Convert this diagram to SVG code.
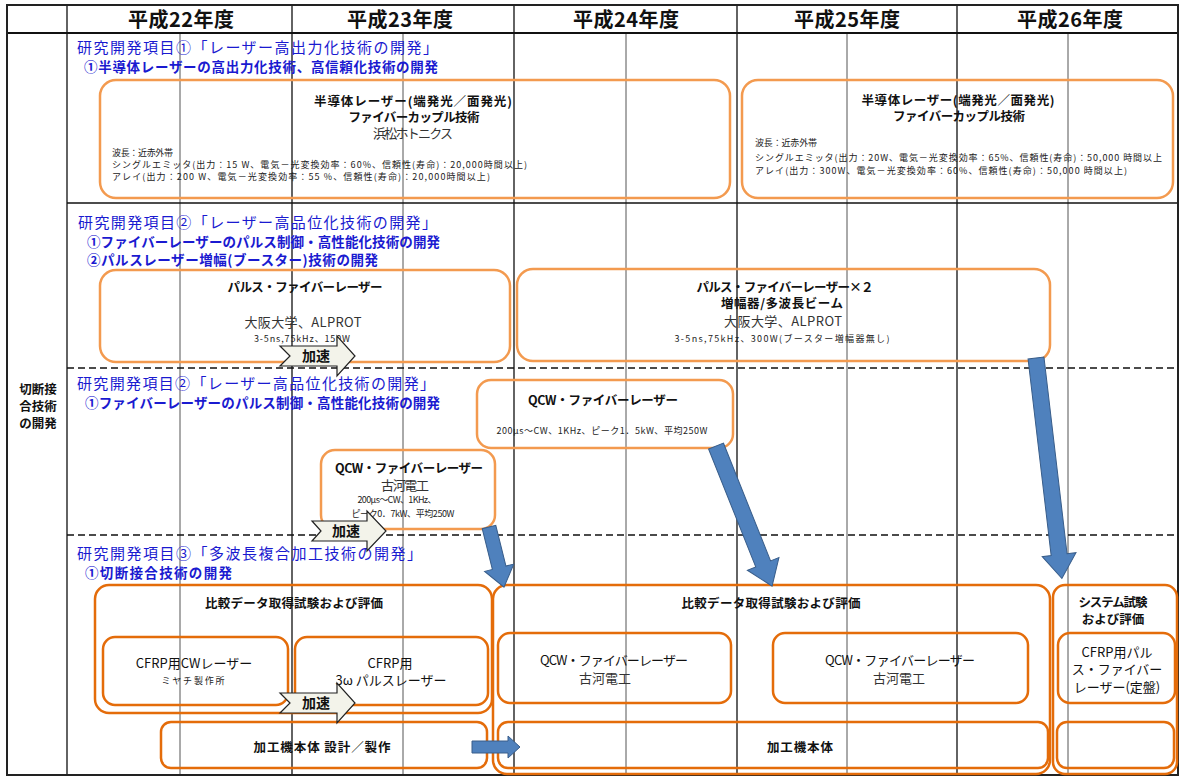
<svg xmlns="http://www.w3.org/2000/svg" width="1182" height="778" viewBox="0 0 1182 778">
<defs>
<style>
text{font-family:"Noto Sans CJK JP","Noto Sans",sans-serif;fill:#111}
.hd{font-size:20px;font-weight:bold;text-anchor:middle}
.t1{font-size:15px;fill:#1a1ad0}
.t2{font-size:13.5px;fill:#1a1ad0;font-weight:bold}
.b13{font-size:12.5px;font-weight:bold;text-anchor:middle}
.r13{font-size:13px;text-anchor:middle;fill:#333}
.s9{font-size:9px;fill:#222}
.s9m{font-size:9px;fill:#222;text-anchor:middle}
.ob{fill:none;stroke:#f39a4f;stroke-width:2.5}
.od{fill:none;stroke:#e46c0a;stroke-width:2.5}
.yl{stroke:#222;stroke-width:1.4}
.hl{stroke:#555;stroke-width:1}
.ds{stroke:#111;stroke-width:1.6;stroke-dasharray:7 4}
.acc{fill:#f3f3ea;stroke:#222;stroke-width:1.2}
.acct{font-size:14px;font-weight:bold;text-anchor:middle}
.ba{fill:#4f81bd;stroke:#385d8a;stroke-width:1}
</style>
</defs>
<rect width="1182" height="778" fill="#fff"/>
<g id="grid">
<line x1="180" y1="33" x2="180" y2="775" class="hl"/>
<line x1="403" y1="33" x2="403" y2="775" class="hl"/>
<line x1="626" y1="33" x2="626" y2="775" class="hl"/>
<line x1="847" y1="33" x2="847" y2="775" class="hl"/>
<line x1="1068" y1="33" x2="1068" y2="775" class="hl"/>
<line x1="67" y1="5" x2="67" y2="775" class="yl"/>
<line x1="292" y1="5" x2="292" y2="775" class="yl"/>
<line x1="514" y1="5" x2="514" y2="775" class="yl"/>
<line x1="737" y1="5" x2="737" y2="775" class="yl"/>
<line x1="957" y1="5" x2="957" y2="775" class="yl"/>
<line x1="7" y1="33" x2="1178" y2="33" stroke="#111" stroke-width="2"/>
<line x1="67" y1="203" x2="1178" y2="203" stroke="#111" stroke-width="1.6"/>
<line x1="67" y1="368" x2="1178" y2="368" class="ds"/>
<line x1="67" y1="535" x2="1178" y2="535" class="ds"/>
<rect x="7" y="5" width="1171" height="770" fill="none" stroke="#222" stroke-width="2"/>
</g>
<g id="header">
<text x="181" y="27" class="hd" textLength="106">平成22年度</text>
<text x="400" y="27" class="hd" textLength="106">平成23年度</text>
<text x="626" y="27" class="hd" textLength="106">平成24年度</text>
<text x="847" y="27" class="hd" textLength="106">平成25年度</text>
<text x="1070" y="27" class="hd" textLength="106">平成26年度</text>
</g>
<g id="row-label">
<text x="38" y="394" font-size="12.5" font-weight="bold" text-anchor="middle">切断接</text>
<text x="38" y="411" font-size="12.5" font-weight="bold" text-anchor="middle">合技術</text>
<text x="38" y="428" font-size="12.5" font-weight="bold" text-anchor="middle">の開発</text>
</g>
<g id="section1-titles">
<text x="77" y="53" class="t1" textLength="361">研究開発項目①「レーザー高出力化技術の開発」</text>
<text x="84" y="72" class="t2" textLength="354">①半導体レーザーの高出力化技術、高信頼化技術の開発</text>
</g>
<g id="box-semi-1">
<rect x="100" y="80" width="630" height="118" rx="16" class="ob"/>
<text x="413" y="106" class="b13" textLength="198">半導体レーザー(端発光／面発光)</text>
<text x="414" y="122" class="b13" textLength="131">ファイバーカップル技術</text>
<text x="413" y="138" class="r13" font-size="12" textLength="80">浜松ホトニクス</text>
<text x="112" y="155.5" class="s9" textLength="61">波長：近赤外帯</text>
<text x="112" y="167.5" class="s9" textLength="415">シングルエミッタ(出力：15 W、電気－光変換効率：60%、信頼性(寿命)：20,000時間以上)</text>
<text x="112" y="179.5" class="s9" textLength="378">アレイ(出力：200 W、電気－光変換効率：55 %、信頼性(寿命)：20,000時間以上)</text>
</g>
<g id="box-semi-2">
<rect x="742" y="80" width="431" height="118" rx="16" class="ob"/>
<text x="958" y="105" class="b13" textLength="193">半導体レーザー(端発光／面発光)</text>
<text x="959" y="121" class="b13" textLength="132">ファイバーカップル技術</text>
<text x="755" y="146" class="s9" textLength="62">波長：近赤外帯</text>
<text x="755" y="161" class="s9" textLength="407">シングルエミッタ(出力：20W、電気－光変換効率：65%、信頼性(寿命)：50,000 時間以上</text>
<text x="755" y="174" class="s9" textLength="372">アレイ(出力：300W、電気－光変換効率：60%、信頼性(寿命)：50,000 時間以上)</text>
</g>
<g id="section2-titles">
<text x="78" y="228" class="t1" textLength="359">研究開発項目②「レーザー高品位化技術の開発」</text>
<text x="87" y="247" class="t2" textLength="353">①ファイバーレーザーのパルス制御・高性能化技術の開発</text>
<text x="87" y="265" class="t2" textLength="291">②パルスレーザー増幅(ブースター)技術の開発</text>
</g>
<g id="box-pulse-1">
<rect x="100" y="270" width="410" height="92" rx="16" class="ob"/>
<text x="305" y="292" class="b13" textLength="155">パルス・ファイバーレーザー</text>
<text x="303" y="327" class="r13" textLength="117">大阪大学、ALPROT</text>
<text x="302" y="341.5" class="s9m" textLength="96">3-5ns,75kHz、150W</text>
</g>
<g id="box-pulse-2">
<rect x="517" y="269" width="533" height="92" rx="16" class="ob"/>
<text x="785" y="292" class="b13" textLength="177">パルス・ファイバーレーザー×２</text>
<text x="782" y="308" class="b13" textLength="122">増幅器/多波長ビーム</text>
<text x="783" y="326" class="r13" textLength="118">大阪大学、ALPROT</text>
<text x="782" y="342" class="s9m" textLength="215">3-5ns,75kHz、300W(ブースター増幅器無し)</text>
</g>
<g id="section2b-titles">
<text x="77" y="389" class="t1" textLength="358">研究開発項目②「レーザー高品位化技術の開発」</text>
<text x="85" y="408" class="t2" textLength="355">①ファイバーレーザーのパルス制御・高性能化技術の開発</text>
</g>
<g id="box-qcw-1">
<rect x="477" y="380" width="256" height="68" rx="14" class="ob"/>
<text x="603" y="405" class="b13" textLength="150">QCW・ファイバーレーザー</text>
<text x="602" y="434" class="s9m" textLength="211">200μs～CW、1KHz、ピーク1．5kW、平均250W</text>
</g>
<g id="box-qcw-2">
<rect x="321" y="450" width="174" height="79" rx="14" class="ob"/>
<text x="409" y="473" class="b13" textLength="148">QCW・ファイバーレーザー</text>
<text x="405" y="490" class="r13" font-size="12.5" textLength="48">古河電工</text>
<text x="397" y="502.5" class="s9m" font-size="8.5" textLength="79">200μs～CW、1KHz、</text>
<text x="403" y="516.5" class="s9m" font-size="8.5" textLength="103">ピーク0．7kW、平均250W</text>
</g>
<g id="section3-titles">
<text x="77" y="559" class="t1" textLength="345">研究開発項目③「多波長複合加工技術の開発」</text>
<text x="85" y="578" class="t2" textLength="147">①切断接合技術の開発</text>
</g>
<g id="eval-1">
<rect x="95" y="585" width="397" height="128" rx="14" class="od"/>
<text x="294" y="608" class="b13" textLength="178">比較データ取得試験および評価</text>
</g>
<g id="cfrp-cw">
<rect x="103" y="637" width="185" height="68" rx="12" class="od"/>
<text x="194" y="668" class="r13" style="fill:#111">CFRP用CWレーザー</text>
<text x="193" y="684" class="s9m" font-size="10" textLength="63">ミヤチ製作所</text>
</g>
<g id="cfrp-3w">
<rect x="295" y="637" width="193" height="68" rx="12" class="od"/>
<text x="390" y="668" class="r13" style="fill:#111">CFRP用</text>
<text x="391" y="685" class="r13" style="fill:#111">3ω パルスレーザー</text>
</g>
<g id="eval-2">
<rect x="493" y="585" width="557" height="189" rx="14" class="od"/>
<text x="771" y="608" class="b13" textLength="179">比較データ取得試験および評価</text>
</g>
<g id="qcw-eval-1">
<rect x="498" y="633" width="233" height="70" rx="12" class="od"/>
<text x="614" y="665" class="r13" style="fill:#111" textLength="148">QCW・ファイバーレーザー</text>
<text x="605" y="683" class="r13">古河電工</text>
</g>
<g id="qcw-eval-2">
<rect x="773" y="633" width="255" height="70" rx="12" class="od"/>
<text x="900" y="665" class="r13" style="fill:#111" textLength="150">QCW・ファイバーレーザー</text>
<text x="899" y="683" class="r13">古河電工</text>
</g>
<g id="system-eval">
<rect x="1053" y="585" width="124" height="189" rx="12" class="od"/>
<text x="1113" y="607" class="b13" font-size="11.5" textLength="69">システム試験</text>
<text x="1113" y="624" class="b13" font-size="11.5">および評価</text>
</g>
<g id="cfrp-pulse">
<rect x="1058" y="633" width="117" height="70" rx="12" class="od"/>
<text x="1117" y="657" class="r13" font-size="12.5" style="fill:#111">CFRP用パル</text>
<text x="1117" y="674" class="r13" font-size="12.5" style="fill:#111">ス・ファイバー</text>
<text x="1117" y="692" class="r13" font-size="12.5" style="fill:#111">レーザー(定盤)</text>
</g>
<g id="machine-design">
<rect x="161" y="722" width="326" height="46" rx="10" class="od"/>
<text x="322" y="752" class="b13" font-size="12" textLength="137">加工機本体 設計／製作</text>
</g>
<g id="machine">
<rect x="498" y="722" width="550" height="46" rx="10" class="od"/>
<text x="800" y="752" class="b13" font-size="12" textLength="66">加工機本体</text>
</g>
<g id="machine-3">
<rect x="1057" y="722" width="117" height="46" rx="10" class="od"/>
</g>
<g id="accel-1">
<path d="M280,346 L337,346 L337,336 L355,356 L337,376 L337,366 L280,366 L290,356 Z" class="acc"/>
<text x="316" y="361" class="acct">加速</text>
</g>
<g id="accel-2">
<path d="M312,521 L367,521 L367,511 L386,531 L367,551 L367,541 L312,541 L321,531 Z" class="acc"/>
<text x="346" y="536" class="acct">加速</text>
</g>
<g id="accel-3">
<path d="M280,693 L337,693 L337,683 L355,703 L337,723 L337,713 L280,713 L290,703 Z" class="acc"/>
<text x="316" y="708" class="acct">加速</text>
</g>
<g id="connectors">
<polygon class="ba" transform="translate(489,527) rotate(76)" points="0,-7 42,-7 42,-15 62,0 42,15 42,7 0,7"/>
<polygon class="ba" transform="translate(716,446) rotate(68.2)" points="0,-8 127,-8 127,-17 151,0 127,17 127,8 0,8"/>
<polygon class="ba" transform="translate(1036,358) rotate(83.3)" points="0,-8 198,-8 198,-17 222,0 198,17 198,8 0,8"/>
<polygon class="ba" points="472,741 508,741 508,736 520,747 508,758 508,753 472,753"/>
</g>
</svg>
